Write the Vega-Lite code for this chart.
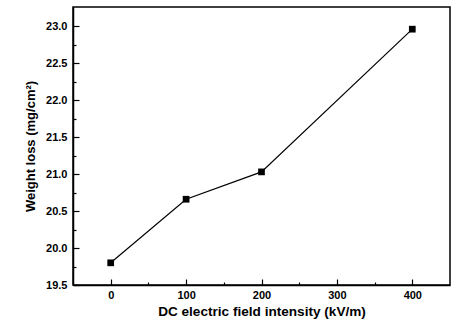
{
  "$schema": "https://vega.github.io/schema/vega-lite/v6.json",
  "width": 377,
  "height": 278,
  "autosize": {"type": "none"},
  "padding": {"left": 73, "top": 7, "right": 23, "bottom": 39},
  "background": "white",
  "config": {
    "view": {"stroke": "black", "strokeWidth": 1.5},
    "axis": {
      "grid": false,
      "domainColor": "black",
      "domainWidth": 1.5,
      "tickColor": "black",
      "tickWidth": 1.2,
      "labelFont": "Liberation Sans",
      "labelFontWeight": "bold",
      "labelFontSize": 11,
      "labelColor": "black",
      "titleFont": "Liberation Sans",
      "titleFontWeight": "bold",
      "titleFontSize": 13,
      "titleColor": "black"
    }
  },
  "data": {
    "values": [
      {"field": 0, "loss": 19.8},
      {"field": 100, "loss": 20.66},
      {"field": 200, "loss": 21.03},
      {"field": 400, "loss": 22.96}
    ]
  },
  "encoding": {
    "x": {
      "field": "field",
      "type": "quantitative",
      "scale": {"domain": [-50, 450], "nice": false, "zero": false},
      "axis": {
        "title": "DC electric field intensity (kV/m)",
        "titleFontSize": 13.6,
        "values": [0, 50, 100, 150, 200, 250, 300, 350, 400],
        "labelExpr": "datum.value % 100 === 0 ? datum.label : ''",
        "tickSize": {"condition": {"test": "datum.value % 100 === 0", "value": -6}, "value": -3},
        "labelPadding": 10,
        "titlePadding": 4
      }
    },
    "y": {
      "field": "loss",
      "type": "quantitative",
      "scale": {"domain": [19.5, 23.26], "nice": false, "zero": false},
      "axis": {
        "title": "Weight loss (mg/cm²)",
        "values": [19.5, 19.75, 20, 20.25, 20.5, 20.75, 21, 21.25, 21.5, 21.75, 22, 22.25, 22.5, 22.75, 23],
        "labelExpr": "(datum.value * 2) % 1 === 0 ? format(datum.value, '.1f') : ''",
        "tickSize": {"condition": {"test": "(datum.value * 2) % 1 === 0", "value": -6}, "value": -3},
        "labelPadding": 12,
        "titlePadding": 8
      }
    }
  },
  "layer": [
    {"mark": {"type": "line", "color": "black", "strokeWidth": 1.2}},
    {"mark": {"type": "square", "color": "black", "size": 45, "opacity": 1, "filled": true}}
  ]
}
